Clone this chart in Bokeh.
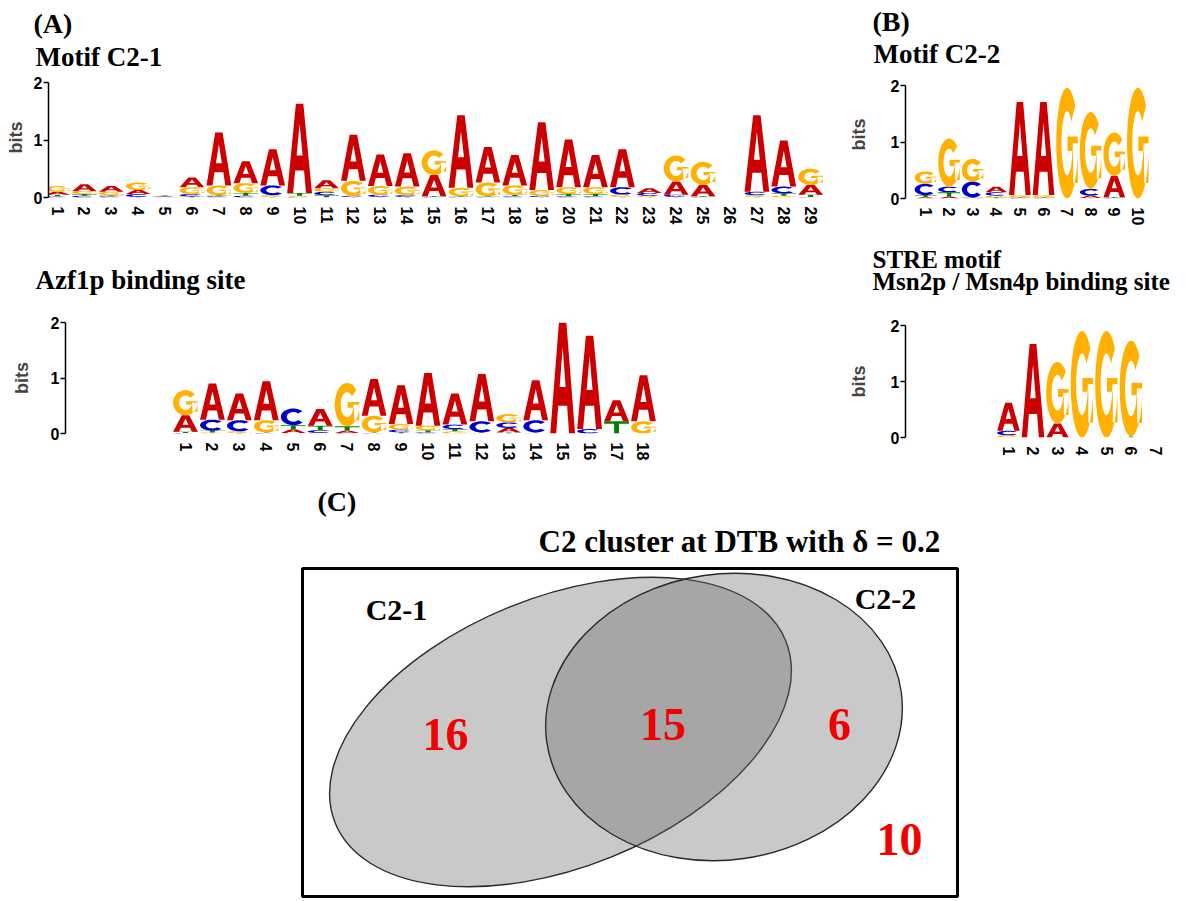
import numpy as np
from bokeh.plotting import figure
from bokeh.models import Range1d, LinearAxis, FixedTicker, Title, ColumnDataSource, Spacer
from bokeh.layouts import row, column
from bokeh.embed import file_html
from bokeh.resources import INLINE
from bokeh.core.properties import value

# ---------------- data: information content (bits) per base and position ----------------
c21_A = [0.05, 0.12, 0.10, 0.07, 0.01, 0.17, 0.92, 0.38, 0.63, 1.55, 0.14, 0.80, 0.55, 0.58, 0.37,
         1.26, 0.62, 0.53, 1.18, 0.83, 0.56, 0.66, 0.08, 0.23, 0.20, 0.00, 1.33, 0.80, 0.17]
c21_C = [0.02, 0.03, 0.02, 0.05, 0.01, 0.04, 0.02, 0.03, 0.17, 0.01, 0.06, 0.02, 0.04, 0.03, 0.01,
         0.01, 0.01, 0.02, 0.02, 0.02, 0.02, 0.13, 0.05, 0.04, 0.01, 0.00, 0.06, 0.12, 0.01]
c21_G = [0.10, 0.05, 0.06, 0.13, 0.01, 0.12, 0.17, 0.17, 0.03, 0.02, 0.06, 0.26, 0.15, 0.15, 0.43,
         0.15, 0.24, 0.16, 0.10, 0.12, 0.12, 0.04, 0.02, 0.45, 0.40, 0.00, 0.03, 0.03, 0.28]
c21_T = [0.03, 0.03, 0.02, 0.01, 0.01, 0.02, 0.02, 0.05, 0.01, 0.05, 0.04, 0.01, 0.01, 0.01, 0.01,
         0.01, 0.01, 0.03, 0.01, 0.04, 0.04, 0.01, 0.01, 0.01, 0.01, 0.00, 0.01, 0.04, 0.04]

c22_A = [0.02, 0.03, 0.01, 0.10, 1.65, 1.65, 0.00, 0.04, 0.38, 0.00]
c22_C = [0.20, 0.10, 0.28, 0.06, 0.01, 0.01, 0.00, 0.12, 0.01, 0.00]
c22_G = [0.22, 0.85, 0.40, 0.03, 0.04, 0.04, 1.96, 1.36, 0.77, 1.96]
c22_T = [0.04, 0.08, 0.01, 0.02, 0.01, 0.01, 0.00, 0.01, 0.01, 0.00]

azf_A = [0.30, 0.65, 0.48, 0.70, 0.06, 0.30, 0.04, 0.66, 0.70, 0.95, 0.56, 0.85, 0.08, 0.72, 2.00, 1.68, 0.38, 0.83]
azf_C = [0.01, 0.20, 0.20, 0.01, 0.30, 0.05, 0.01, 0.01, 0.05, 0.02, 0.08, 0.20, 0.10, 0.22, 0.00, 0.08, 0.00, 0.00]
azf_G = [0.45, 0.02, 0.03, 0.22, 0.01, 0.01, 0.78, 0.30, 0.10, 0.08, 0.04, 0.01, 0.15, 0.01, 0.00, 0.00, 0.00, 0.22]
azf_T = [0.02, 0.03, 0.01, 0.01, 0.08, 0.08, 0.08, 0.01, 0.02, 0.04, 0.04, 0.01, 0.02, 0.01, 0.00, 0.00, 0.22, 0.00]

stre_A = [0.50, 1.67, 0.25, 0.00, 0.00, 0.00, 0.00]
stre_C = [0.08, 0.00, 0.00, 0.00, 0.00, 0.00, 0.00]
stre_G = [0.04, 0.00, 1.10, 1.90, 1.90, 1.71, 0.00]
stre_T = [0.00, 0.00, 0.00, 0.00, 0.00, 0.02, 0.00]

venn_sets = ["C2-1", "C2-2"]
venn_counts = ["16", "15", "6", "10"]
venn_title = "C2 cluster at DTB with \u03b4 = 0.2"

# ---------------- letter outlines in a unit box ----------------
COLORS = {"A": "#CC0000", "C": "#0000CC", "G": "#FFB000", "T": "#008000"}


def arc_ring(a0, a1, n=40, ro=(0.5, 0.5), ri=(0.26, 0.29)):
    t = np.radians(np.linspace(a0, a1, n))
    ox = 0.5 + ro[0] * np.cos(t)
    oy = 0.5 + ro[1] * np.sin(t)
    ix = 0.5 + ri[0] * np.cos(t[::-1])
    iy = 0.5 + ri[1] * np.sin(t[::-1])
    return list(np.concatenate([ox, ix])), list(np.concatenate([oy, iy]))


GLYPHS = {
    "A": [[([0, 0.35, 0.65, 1, 0.76, 0.68, 0.32, 0.24], [0, 1, 1, 0, 0, 0.25, 0.25, 0]),
           ([0.38, 0.62, 0.5], [0.42, 0.42, 0.78])]],
    "C": [[arc_ring(42, 318)]],
    "G": [[arc_ring(42, 360)],
          [([0.52, 0.99, 0.99, 0.78, 0.78, 0.52], [0.56, 0.56, 0.14, 0.14, 0.43, 0.43])]],
    "T": [[([0, 1, 1, 0.6, 0.6, 0.4, 0.4, 0], [1, 1, 0.8, 0.8, 0, 0, 0.8, 0.8])]],
}


def logo_source(heights, lw=0.92):
    xs, ys, cols = [], [], []
    n = len(heights["A"])
    for i in range(n):
        pos = i + 1
        stack = sorted(((heights[b][i], b) for b in "ACGT"), key=lambda t: t[0])
        base = 0.0
        for h, b in stack:
            if h <= 0:
                continue
            px_all, py_all = [], []
            for poly in GLYPHS[b]:
                px, py = [], []
                for rx, ry in poly:
                    px.append([pos - lw / 2 + u * lw for u in rx])
                    py.append([base + v * h for v in ry])
                px_all.append(px)
                py_all.append(py)
            xs.append(px_all)
            ys.append(py_all)
            cols.append(COLORS[b])
            base += h
    return ColumnDataSource(dict(xs=xs, ys=ys, color=cols))


SERIF = "Liberation Serif"


def add_titles(p, titles):
    # entries are stacked outward from the plot frame, in order
    for text, off, standoff, size, lh, valign, place in titles:
        t = Title(text=text, align="left", offset=off, standoff=standoff, text_font=SERIF,
                  text_font_size=size, text_font_style="bold", text_color="black",
                  text_line_height=lh, vertical_align=valign)
        p.add_layout(t, place)


def logo_fig(heights, width, height, b_left, b_right, b_top, b_bottom,
             first_px, step_px, titles, bits_standoff, axis_px, top_ext_px=0):
    # axis_px: pixel length of the 0..2 bits axis; top_ext_px: empty head-room above 2 bits
    n = len(heights["A"])
    frame_w = width - b_left - b_right
    start = 1 - first_px / step_px
    end = start + frame_w / step_px
    ytop = 2.0 * (axis_px + top_ext_px) / axis_px
    p = figure(width=width, height=height, x_range=Range1d(start, end), y_range=Range1d(0, ytop),
               output_backend="svg", toolbar_location=None, title=None,
               x_axis_type=None, y_axis_type=None,
               min_border_left=b_left, min_border_right=b_right,
               min_border_top=b_top, min_border_bottom=b_bottom)
    p.outline_line_color = None
    p.grid.visible = False
    p.background_fill_color = "white"
    p.border_fill_color = "white"

    ya = LinearAxis(ticker=FixedTicker(ticks=[0, 1, 2]), axis_label="bits", bounds=(0, 2))
    ya.axis_line_color = "black"
    ya.axis_line_width = 1.5
    ya.major_tick_line_width = 1.5
    ya.major_tick_out = 5
    ya.major_tick_in = 0
    ya.minor_tick_line_color = None
    ya.major_label_standoff = 1
    ya.major_label_text_font = "Liberation Sans"
    ya.major_label_text_font_style = "bold"
    ya.major_label_text_font_size = "16px"
    ya.major_label_text_color = "black"
    ya.axis_label_text_font = "Liberation Sans"
    ya.axis_label_text_font_style = "bold"
    ya.axis_label_text_font_size = "18px"
    ya.axis_label_standoff = bits_standoff
    p.add_layout(ya, "left")

    xa = LinearAxis(ticker=FixedTicker(ticks=list(range(1, n + 1))))
    xa.axis_line_color = None
    xa.major_tick_line_color = None
    xa.minor_tick_line_color = None
    xa.major_label_orientation = "vertical"
    xa.major_label_standoff = 3
    xa.major_label_text_font = "Liberation Sans"
    xa.major_label_text_font_style = "bold"
    xa.major_label_text_font_size = "16px"
    xa.major_label_text_color = "black"
    p.add_layout(xa, "below")

    src = logo_source(heights)
    p.multi_polygons(xs="xs", ys="ys", fill_color="color", line_color=None, source=src)
    add_titles(p, titles)
    return p


# panel geometry (pixels): width, height, borders L/R/T/B, offset of position 1 from frame, step
pA1 = logo_fig(dict(A=c21_A, C=c21_C, G=c21_G, T=c21_T), 840, 235, 48, 16, 77, 38, 9, 26.9,
               [("Motif C2-1", -13, 7, "27px", 1.0, "top", "above"),
                ("(A)", -15, 0, "28px", 1.0, "bottom", "above")], 5, 115, 5)
pA2 = logo_fig(dict(A=azf_A, C=azf_C, G=azf_G, T=azf_T), 834, 243, 59, 16, 87, 45, 120, 26.94,
               [("Azf1p binding site", -30, 52, "27px", 1.0, "top", "above")], 16, 111)
# the STRE heading is hung under the C2-2 logo so that it sits just above the STRE logo
pB1 = logo_fig(dict(A=c22_A, C=c22_C, G=c22_G, T=c22_T), 360, 315, 65, 25, 70, 117, 20, 23.6,
               [("Motif C2-2", -32, 0, "27px", 1.0, "top", "above"),
                ("(B)", -33, 0, "28px", 1.0, "top", "above"),
                ("STRE motif\nMsn2p / Msn4p binding site", -33, 35, "25px", 0.83, "top", "below")],
               19, 113, 15)
pB2 = logo_fig(dict(A=stre_A, C=stre_C, G=stre_G, T=stre_T), 360, 163, 65, 25, 10, 41, 103, 24.5,
               [], 19, 112)

# ---------------- Venn diagram ----------------
venn_cx = [258, 421.5]
venn_cy = [164.5, 179.5]
venn_w = [486, 358]
venn_h = [270, 286]
venn_ang = [0.384, 0.14]
set_lx = [94, 583]
set_ly = [287.5, 298.5]
count_x = [143, 360.5, 537, 597]
count_y = [162.5, 172.5, 172.5, 57.5]

pv = figure(width=1200, height=423, x_range=Range1d(0, 655), y_range=Range1d(0, 328),
            output_backend="svg", toolbar_location=None, title=None,
            x_axis_type=None, y_axis_type=None,
            min_border_left=302, min_border_right=243, min_border_top=90, min_border_bottom=5)
pv.grid.visible = False
pv.outline_line_color = "black"
pv.outline_line_width = 3
pv.border_fill_color = "white"

pv.ellipse(x=venn_cx, y=venn_cy, width=venn_w, height=venn_h, angle=venn_ang,
           fill_color="#686868", fill_alpha=0.36, line_color="#2a2a2a", line_width=1.4)
pv.text(x=set_lx, y=set_ly, text=venn_sets, text_font=value(SERIF), text_font_style="bold",
        text_font_size="30px", text_color="black", text_align="center", text_baseline="middle")
pv.text(x=count_x, y=count_y, text=venn_counts, text_font=value(SERIF), text_font_style="bold",
        text_font_size="46px", text_color="#F00000", text_align="center", text_baseline="middle")
add_titles(pv, [(venn_title, 236, 15, "31px", 1.0, "top", "above"),
                ("(C)", 15, 0, "28px", 1.0, "bottom", "above")])

layout = column(row(column(pA1, row(Spacer(width=6, height=243), pA2)), column(pB1, pB2)), pv)

with open("out.html", "w") as f:
    f.write(file_html(layout, INLINE))
